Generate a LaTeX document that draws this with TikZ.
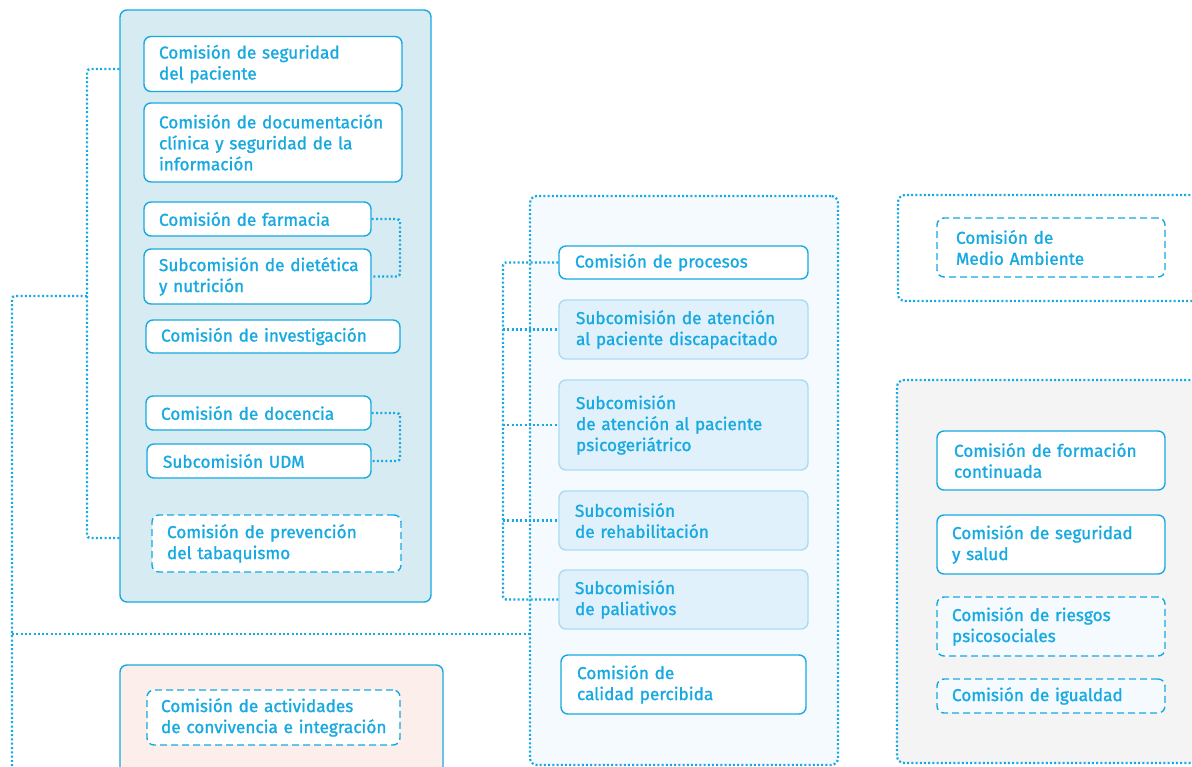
\documentclass[tikz,border=0pt]{standalone}
\usepackage{fontspec}
\setmainfont{Fira Sans}[FakeBold=1.2]
\definecolor{cyanx}{HTML}{17A9E1}
\definecolor{lightcy}{HTML}{A9DCF4}
\definecolor{leftfill}{HTML}{D7ECF2}
\definecolor{pinkfill}{HTML}{FCEEEA}
\definecolor{midfill}{HTML}{F5FAFE}
\definecolor{subfill}{HTML}{E1F1FB}
\definecolor{greyfill}{HTML}{F4F4F4}
\tikzset{
  cbox/.style={draw=cyanx, line width=1.4pt, rounded corners=7pt, fill=white,
    inner xsep=15pt, inner ysep=0pt, align=left, text=cyanx,
    font=\fontsize{17.2}{21}\selectfont},
  dbox/.style={cbox, dash pattern=on 7pt off 4pt},
  sbox/.style={cbox, draw=lightcy, fill=subfill},
  container/.style={draw=cyanx, line width=1.4pt, rounded corners=7pt, inner sep=0pt},
  dcontainer/.style={draw=cyanx, line width=2.2pt, rounded corners=7pt, inner sep=0pt,
    dash pattern=on 2pt off 2.2pt},
  dots/.style={draw=cyanx, line width=2.4pt, dash pattern=on 2pt off 2.3pt, rounded corners=3pt}
}
\begin{document}
\begin{tikzpicture}[x=1pt,y=-1pt]
\useasboundingbox (0,0) rectangle (1192,767);
\clip (0,0) rectangle (1192,767);
\fill[white] (0,0) rectangle (1192,767);
% containers
\node[container, fill=leftfill, minimum width=311pt, minimum height=592pt] (L) at (275.5,306) {};
\node[container, fill=pinkfill, minimum width=323pt, minimum height=135pt] (P) at (281.5,732.5) {};
\node[dcontainer, fill=midfill, minimum width=308pt, minimum height=569pt] (M) at (684,480.5) {};
\node[dcontainer, fill=white, minimum width=312pt, minimum height=106pt] (RT) at (1054,248) {};
\node[dcontainer, fill=greyfill, minimum width=313pt, minimum height=383pt] (RB) at (1053.5,571.5) {};
% left boxes
\node[cbox, text width=228pt, minimum height=55pt] (n1) at (273,64) {\mbox{Comisión de seguridad}\\del paciente};
\node[cbox, text width=228pt, minimum height=79pt] (n2) at (273,142.5) {\mbox{Comisión de documentación}\\\mbox{clínica y seguridad de la}\\información};
\node[cbox, text width=197pt, minimum height=34pt] (n3) at (257.5,219) {Comisión de farmacia};
\node[cbox, text width=197pt, minimum height=55pt] (n4) at (257.5,276.5) {\mbox{Subcomisión de dietética}\\y nutrición};
\node[cbox, text width=224pt, minimum height=33pt] (n5) at (273,336.5) {\mbox{Comisión de investigación}};
\node[cbox, text width=195pt, minimum height=34pt] (n6) at (258.5,413) {Comisión de docencia};
\node[cbox, inner xsep=16pt, text width=192pt, minimum height=34pt] (n7) at (259,461) {Subcomisión UDM};
\node[dbox, text width=219pt, minimum height=57pt] (n8) at (276.5,543.5) {\mbox{Comisión de prevención}\\del tabaquismo};
\node[dbox, inner xsep=14pt, text width=225pt, minimum height=55pt] (n9) at (273.5,717.5) {\mbox{Comisión de actividades}\\\mbox{de convivencia e integración}};
% middle boxes
\node[cbox, inner xsep=16pt, text width=217pt, minimum height=33pt] (m1) at (683.5,262.5) {Comisión de procesos};
\node[sbox, inner xsep=17pt, text width=215pt, minimum height=59pt] (m2) at (683.5,329.5) {\mbox{Subcomisión de atención}\\\mbox{al paciente discapacitado}};
\node[sbox, inner xsep=17pt, text width=215pt, minimum height=90pt] (m3) at (683.5,425) {Subcomisión\\\mbox{de atención al paciente}\\psicogeriátrico};
\node[sbox, inner xsep=16pt, text width=217pt, minimum height=59pt] (m4) at (683.5,520.5) {Subcomisión\\de rehabilitación};
\node[sbox, inner xsep=16pt, text width=217pt, minimum height=59pt] (m5) at (683.5,599.5) {Subcomisión\\de paliativos};
\node[cbox, inner xsep=16pt, text width=213pt, minimum height=59pt] (m6) at (683.5,684.5) {Comisión de\\calidad percibida};
% right boxes
\node[dbox, inner xsep=19pt, text width=190pt, minimum height=59pt] (r1) at (1051,247.5) {Comisión de\\Medio Ambiente};
\node[cbox, inner xsep=17pt, text width=194pt, minimum height=59pt] (r2) at (1051,460.5) {\mbox{Comisión de formación}\\continuada};
\node[cbox, text width=198pt, minimum height=59pt] (r3) at (1051,544.5) {\mbox{Comisión de seguridad}\\y salud};
\node[dbox, fill=midfill, text width=198pt, minimum height=59pt] (r4) at (1051,626.5) {\mbox{Comisión de riesgos}\\psicosociales};
\node[dbox, fill=midfill, text width=198pt, minimum height=34pt] (r5) at (1051,696) {Comisión de igualdad};
% connector coordinates
\coordinate (lbt) at (87,69);
\coordinate (lbb) at (87,538);
\coordinate (lj) at (87,296);
\coordinate (tt) at (12,296);
\coordinate (tb) at (12,780);
\coordinate (tj) at (12,634);
\coordinate (fb) at (400,0);
\coordinate (mb) at (503,0);
% left bracket
\draw[dots] (L.west |- lbt) -- (lbt) -- (lbb) -- (L.west |- lbb);
\draw[dots] (lj) -- (tt) -- (tb);
\draw[dots] (tj) -- (M.west |- tj);
% small brackets
\draw[dots] (n3.east) -- (n3.east -| fb) -- (n4.east -| fb) -- (n4.east);
\draw[dots] (n6.east) -- (n6.east -| fb) -- (n7.east -| fb) -- (n7.east);
% middle bracket
\draw[dots] (m1.west) -- (m1.west -| mb) -- (m5.west -| mb) -- (m5.west);
\draw[dots] (m2.west -| mb) -- (m2.west);
\draw[dots] (m3.west -| mb) -- (m3.west);
\draw[dots] (m4.west -| mb) -- (m4.west);
\end{tikzpicture}
\end{document}
